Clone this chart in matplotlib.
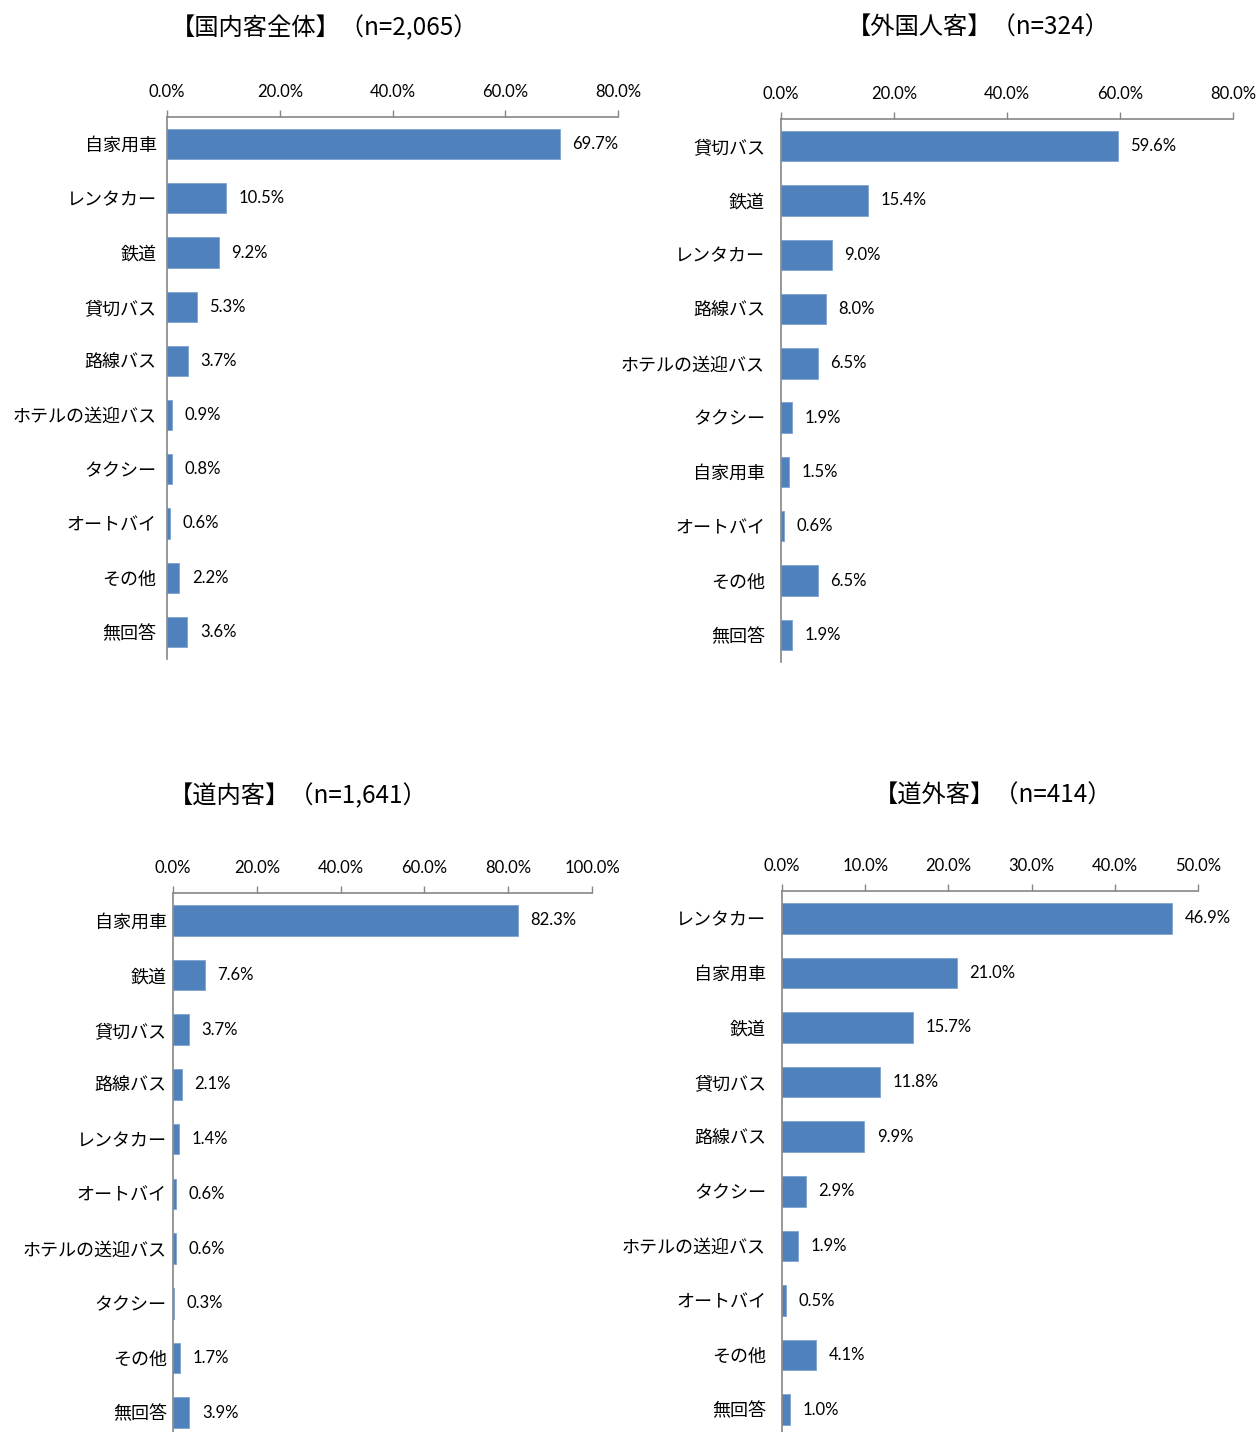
import matplotlib
matplotlib.use("Agg")
import matplotlib.pyplot as plt

JP = ['Noto Sans CJK JP', 'DejaVu Sans']
NUM = ['Lato', 'DejaVu Sans']
BAR = '#4F81BD'
GRAY = '#868686'

W, H = 1260, 1432

# panel data
cats_all = ['自家用車', 'レンタカー', '鉄道', '貸切バス', '路線バス', 'ホテルの送迎バス',
            'タクシー', 'オートバイ', 'その他', '無回答']
vals_all = [69.7, 10.5, 9.2, 5.3, 3.7, 0.9, 0.8, 0.6, 2.2, 3.6]

cats_foreign = ['貸切バス', '鉄道', 'レンタカー', '路線バス', 'ホテルの送迎バス',
                'タクシー', '自家用車', 'オートバイ', 'その他', '無回答']
vals_foreign = [59.6, 15.4, 9.0, 8.0, 6.5, 1.9, 1.5, 0.6, 6.5, 1.9]

cats_in = ['自家用車', '鉄道', '貸切バス', '路線バス', 'レンタカー', 'オートバイ',
           'ホテルの送迎バス', 'タクシー', 'その他', '無回答']
vals_in = [82.3, 7.6, 3.7, 2.1, 1.4, 0.6, 0.6, 0.3, 1.7, 3.9]

cats_out = ['レンタカー', '自家用車', '鉄道', '貸切バス', '路線バス', 'タクシー',
            'ホテルの送迎バス', 'オートバイ', 'その他', '無回答']
vals_out = [46.9, 21.0, 15.7, 11.8, 9.9, 2.9, 1.9, 0.5, 4.1, 1.0]

titles = ['【国内客全体】（n=2,065）', '【外国人客】（n=324）',
          '【道内客】（n=1,641）', '【道外客】（n=414）']

# (left, right, top, bottom) in px, xmax, xstep, label pad, title center x, title y
panels = [
    (cats_all, vals_all, (167, 618, 117, 659), 80, 20, 7.5, 325, 28),
    (cats_foreign, vals_foreign, (781, 1233, 119, 662), 80, 20, 11.5, 978, 28),
    (cats_in, vals_in, (173, 592, 893, 1440), 100, 20, 4.5, 298, 796),
    (cats_out, vals_out, (782, 1198, 891, 1437), 50, 10, 11.5, 993, 796),
]

fig = plt.figure(figsize=(W / 100, H / 100), dpi=100)

for (cats, vals, box, xmax, xstep, lpad, tx, ty), title in zip(panels, titles):
    l, r, t, b = box
    ax = fig.add_axes([l / W, 1 - b / H, (r - l) / W, (b - t) / H])
    y = list(range(len(cats)))
    ax.barh(y, vals, height=0.56, color=BAR, edgecolor='#7FA3D0', linewidth=0.6)
    ax.set_ylim(len(cats) - 0.5, -0.5)
    ax.set_xlim(0, xmax)
    ticks = list(range(0, xmax + 1, xstep))
    ax.set_xticks(ticks)
    ax.set_xticklabels(['%.1f%%' % v for v in ticks], fontfamily=NUM, fontsize=12)
    ax.xaxis.tick_top()
    ax.tick_params(axis='x', direction='out', length=5, width=1, color=GRAY, pad=7)
    ax.set_yticks(y)
    ax.set_yticklabels(cats, fontfamily=JP, fontsize=13)
    ax.tick_params(axis='y', length=0, pad=lpad)
    for s in ['right', 'bottom']:
        ax.spines[s].set_visible(False)
    for s in ['left', 'top']:
        ax.spines[s].set_color(GRAY)
        ax.spines[s].set_linewidth(1.2)
    for yi, v in zip(y, vals):
        ax.annotate('%.1f%%' % v, (v, yi), xytext=(9, 0), textcoords='offset points',
                    va='center', ha='left', fontfamily=NUM, fontsize=12)
    fig.text(tx / W, 1 - ty / H, title, ha='center', va='center',
             fontfamily=JP, fontsize=17.5)

fig.savefig('out.png', dpi=100)
